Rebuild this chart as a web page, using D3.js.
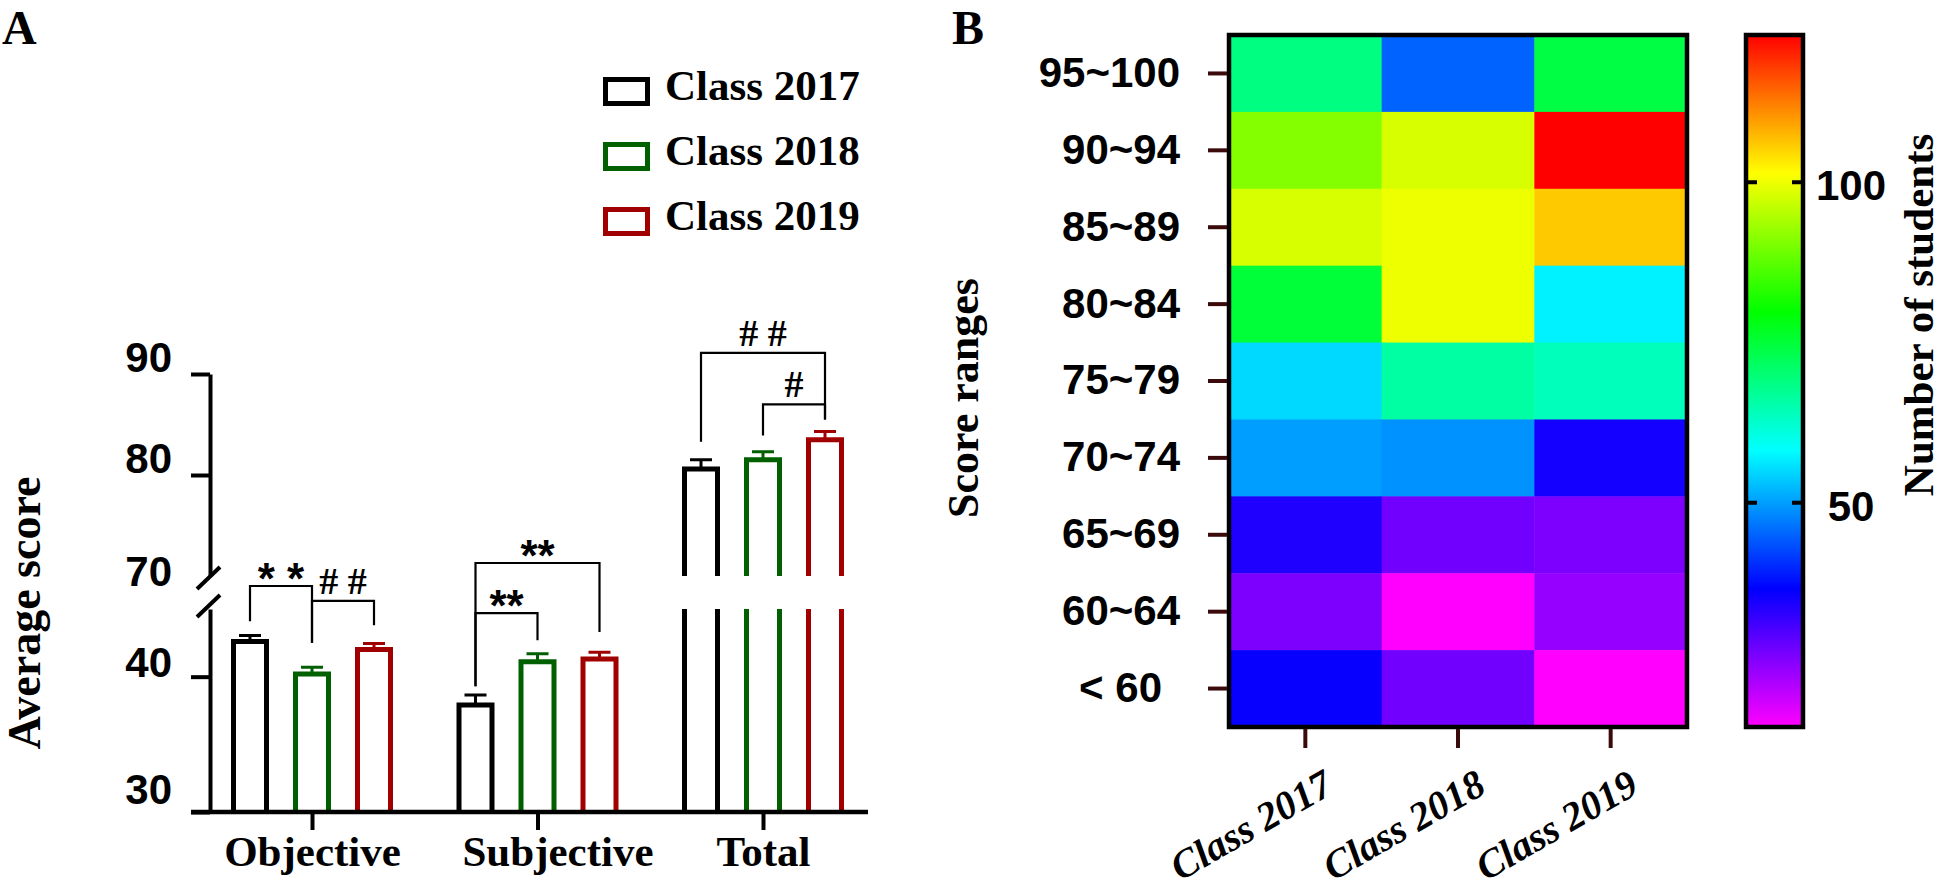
<!DOCTYPE html>
<html>
<head>
<meta charset="utf-8">
<script src="https://cdn.jsdelivr.net/npm/d3@7"></script>
<style>
  body { margin: 0; background: #fff; }
  svg { display: block; }
  .serif { font-family: 'Liberation Serif', 'Times New Roman', serif; font-weight: bold; }
  .sans { font-family: 'Liberation Sans', Arial, sans-serif; font-weight: bold; }
</style>
</head>
<body>
<svg id="chart" width="1943" height="886"></svg>
<script>
// ---- panel A data ----
const groups = ['Objective', 'Subjective', 'Total'];
const classes = ['Class 2017', 'Class 2018', 'Class 2019'];
const classColors = ['#000000', '#006000', '#a00000'];

// mean score per group (Objective, Subjective, Total)
const mean2017 = [42.6, 37.9, 80.6];
const mean2018 = [40.2, 41.1, 81.5];
const mean2019 = [42.0, 41.3, 83.5];
// standard error per group
const sem2017 = [0.45, 0.75, 0.9];
const sem2018 = [0.5, 0.6, 0.8];
const sem2019 = [0.45, 0.5, 0.8];

const lowTicks = [30, 40];
const highTicks = [70, 80, 90];

// significance brackets: bracket level and the two leg ends in score units
const marks = [
  { group: 0, from: 0, to: 1, level: 46.7, ends: [44.1, 42.5], label: '* *' },
  { group: 0, from: 1, to: 2, level: 45.6, ends: [42.5, 43.8], label: '# #' },
  { group: 1, from: 0, to: 2, level: 48.4, ends: [39.3, 43.3], label: '**' },
  { group: 1, from: 0, to: 1, level: 44.7, ends: [39.3, 42.7], label: '**' },
  { group: 2, from: 0, to: 2, level: 92.1, ends: [83.3, 85.5], label: '# #' },
  { group: 2, from: 1, to: 2, level: 87.0, ends: [83.9, 85.5], label: '#' }
];

// ---- panel B data ----
const scoreRanges = ['95~100', '90~94', '85~89', '80~84', '75~79', '70~74', '65~69', '60~64', '< 60'];
const count2017 = [69, 91, 98, 75, 55, 50, 34, 26, 36];
const count2018 = [45, 98, 100, 100, 66, 49, 27, 15, 27];
const count2019 = [74, 123, 106, 57, 64, 35, 26, 24, 15];
const colorTicks = [50, 100];
const colorDomain = [15, 36.6, 58.2, 79.8, 101.4, 123];
const colorRange = ['#ff00ff', '#0000ff', '#00ffff', '#00ff00', '#ffff00', '#ff0000'];

const svg = d3.select('#chart');

// ================= panel A =================
const means = [mean2017, mean2018, mean2019];
const sems = [sem2017, sem2018, sem2019];

const axisX = 210, plotRight = 868, baseY = 812;

const x = d3.scalePoint().domain(groups).range([312, 763]);
const xOff = d3.scalePoint().domain(classes).range([-62, 62]);
const yLow = d3.scaleLinear().domain([30, 45]).range([baseY, 609]);
const yHigh = d3.scaleLinear().domain([70, 90]).range([576, 374]);
const yScore = v => v >= 60 ? yHigh(v) : yLow(v);

svg.append('text').attr('class', 'serif')
  .attr('x', 2).attr('y', 44).attr('font-size', 48).text('A');

// legend
const legend = svg.append('g').attr('transform', 'translate(603,77)');
const legendRow = legend.selectAll('g').data(classes).enter().append('g')
  .attr('transform', (d, i) => `translate(0,${i * 65})`);
legendRow.append('rect')
  .attr('x', 2.5).attr('y', 2.5).attr('width', 42).attr('height', 24)
  .attr('fill', 'none').attr('stroke-width', 5)
  .attr('stroke', (d, i) => classColors[i]);
legendRow.append('text').attr('class', 'serif')
  .attr('x', 62).attr('y', 23).attr('font-size', 43)
  .text(d => d);

// bars
const bars = [];
groups.forEach((g, gi) => classes.forEach((c, ci) => {
  bars.push({ group: g, cls: c, ci: ci, v: means[ci][gi], sem: sems[ci][gi] });
}));

const half = 16.5;
const barPath = d => {
  const cx = x(d.group) + xOff(d.cls), l = cx - half, r = cx + half, top = yScore(d.v);
  if (d.v >= 60) {
    return `M${l},${yHigh(70)}V${top}H${r}V${yHigh(70)}` +
      `M${l},${yLow(45)}V${baseY}M${r},${yLow(45)}V${baseY}`;
  }
  return `M${l},${baseY}V${top}H${r}V${baseY}`;
};

const barG = svg.append('g');
barG.selectAll('path.bar').data(bars).enter().append('path')
  .attr('class', 'bar')
  .attr('d', barPath)
  .attr('fill', 'none')
  .attr('stroke', d => classColors[d.ci])
  .attr('stroke-width', 5);

// error bars (upper only)
barG.selectAll('path.err').data(bars).enter().append('path')
  .attr('class', 'err')
  .attr('d', d => {
    const cx = x(d.group) + xOff(d.cls);
    const yt = yScore(d.v + d.sem);
    return `M${cx},${yScore(d.v)}V${yt}M${cx - 11},${yt}H${cx + 11}`;
  })
  .attr('fill', 'none')
  .attr('stroke', d => classColors[d.ci])
  .attr('stroke-width', 3);

// y axis, broken in two segments
const styleAxis = g => {
  g.select('.domain').attr('stroke-width', 4);
  g.selectAll('.tick line').attr('stroke-width', 4);
  g.selectAll('.tick text').attr('class', 'sans').attr('font-size', 42).attr('fill', '#000');
};
const gHigh = svg.append('g').attr('transform', `translate(${axisX},0)`)
  .call(d3.axisLeft(yHigh).tickValues(highTicks).tickSize(19).tickSizeOuter(0).tickPadding(19))
  .call(styleAxis);
gHigh.selectAll('.tick').filter(d => d === 70).select('line').remove();
gHigh.selectAll('.tick text').attr('dy', d => d === 70 ? '0.22em' : '-0.05em');

const gLow = svg.append('g').attr('transform', `translate(${axisX},0)`)
  .call(d3.axisLeft(yLow).tickValues(lowTicks).tickSize(19).tickSizeOuter(0).tickPadding(19))
  .call(styleAxis);
gLow.selectAll('.tick text').attr('dy', d => d === 30 ? '-0.2em' : '0em');

// break marks
[yHigh(70) + 2, yLow(45) - 3].forEach(cy => {
  svg.append('line')
    .attr('x1', axisX - 13).attr('y1', cy + 11)
    .attr('x2', axisX + 10).attr('y2', cy - 11)
    .attr('stroke', '#000').attr('stroke-width', 4);
});

// x axis
svg.append('line')
  .attr('x1', axisX - 19).attr('x2', plotRight)
  .attr('y1', baseY).attr('y2', baseY)
  .attr('stroke', '#000').attr('stroke-width', 4.5);
const gx = svg.append('g').attr('transform', `translate(0,${baseY})`)
  .call(d3.axisBottom(x).tickSize(18).tickSizeOuter(0));
gx.select('.domain').remove();
gx.selectAll('.tick line').attr('stroke-width', 4);
gx.selectAll('.tick text').attr('class', 'serif').attr('font-size', 43).attr('fill', '#000')
  .attr('y', 54).attr('dy', 0)
  .attr('dx', d => d === 'Subjective' ? 20 : 0);

svg.append('text').attr('class', 'serif')
  .attr('transform', 'translate(40,613) rotate(-90)')
  .attr('text-anchor', 'middle').attr('font-size', 46)
  .text('Average score');

// significance brackets
const markG = svg.append('g');
marks.forEach(m => {
  const g = groups[m.group];
  const xs = x(g) + xOff(classes[m.from]);
  const xe = x(g) + xOff(classes[m.to]);
  const yl = yScore(m.level);
  markG.append('path')
    .attr('d', `M${xs},${yScore(m.ends[0])}V${yl}H${xe}V${yScore(m.ends[1])}`)
    .attr('fill', 'none').attr('stroke', '#000').attr('stroke-width', 2.2);
  const star = m.label.includes('*');
  markG.append('text')
    .attr('class', star ? 'sans' : 'serif')
    .attr('font-weight', star ? 'normal' : 'bold')
    .attr('x', (xs + xe) / 2)
    .attr('y', yl + (star ? 8 : -7))
    .attr('text-anchor', 'middle')
    .attr('font-size', star ? 44 : 38)
    .text(m.label);
});

// ================= panel B =================
const counts = [count2017, count2018, count2019];
const cells = [];
scoreRanges.forEach((r, ri) => classes.forEach((c, ci) => {
  cells.push({ range: r, cls: c, v: counts[ci][ri] });
}));

const hx = d3.scaleBand().domain(classes).range([1229, 1687]);
const hy = d3.scaleBand().domain(scoreRanges).range([35, 727]);
const color = d3.scaleLinear().domain(colorDomain).range(colorRange);

svg.append('text').attr('class', 'serif')
  .attr('x', 952).attr('y', 44).attr('font-size', 48).text('B');

svg.append('g').selectAll('rect').data(cells).enter().append('rect')
  .attr('x', d => hx(d.cls)).attr('y', d => hy(d.range))
  .attr('width', hx.bandwidth() + 0.5).attr('height', hy.bandwidth() + 0.5)
  .attr('fill', d => color(d.v));

svg.append('rect')
  .attr('x', 1229).attr('y', 35).attr('width', 1687 - 1229).attr('height', 727 - 35)
  .attr('fill', 'none').attr('stroke', '#000').attr('stroke-width', 4.5);

const tickColor = '#3b0b0b';
const gyH = svg.append('g').attr('transform', 'translate(1227,0)').attr('color', tickColor)
  .call(d3.axisLeft(hy).tickSize(19).tickPadding(28));
gyH.select('.domain').remove();
gyH.selectAll('.tick line').attr('stroke-width', 4);
gyH.selectAll('.tick text').attr('class', 'sans').attr('font-size', 42).attr('fill', '#000')
  .attr('dx', d => d.startsWith('<') ? -18 : 0);

const gxH = svg.append('g').attr('transform', 'translate(0,729)').attr('color', tickColor)
  .call(d3.axisBottom(hx).tickSize(19));
gxH.select('.domain').remove();
gxH.selectAll('.tick line').attr('stroke-width', 4);
gxH.selectAll('.tick text').remove();

svg.append('g').selectAll('text').data(classes).enter().append('text')
  .attr('class', 'serif').attr('font-style', 'italic').attr('font-size', 40)
  .attr('text-anchor', 'end')
  .attr('transform', d => `translate(${hx(d) + hx.bandwidth() / 2 + 30},792) rotate(-30)`)
  .text(d => d);

svg.append('text').attr('class', 'serif')
  .attr('transform', `translate(978,398) rotate(-90)`)
  .attr('text-anchor', 'middle').attr('font-size', 44)
  .text('Score ranges');

// colour bar
const cbX = 1746, cbW = 57;
const cy = d3.scaleLinear().domain([colorDomain[0], colorDomain[colorDomain.length - 1]]).range([727, 35]);
const grad = svg.append('defs').append('linearGradient')
  .attr('id', 'cbar').attr('x1', 0).attr('y1', 1).attr('x2', 0).attr('y2', 0);
grad.selectAll('stop').data(colorDomain).enter().append('stop')
  .attr('offset', d => (d - cy.domain()[0]) / (cy.domain()[1] - cy.domain()[0]))
  .attr('stop-color', d => color(d));

svg.append('rect')
  .attr('x', cbX).attr('y', cy.range()[1]).attr('width', cbW).attr('height', cy.range()[0] - cy.range()[1])
  .attr('fill', 'url(#cbar)').attr('stroke', '#000').attr('stroke-width', 4.5);

const cbTicks = svg.append('g').selectAll('g').data(colorTicks).enter().append('g');
cbTicks.append('path')
  .attr('d', d => `M${cbX},${cy(d)}h11M${cbX + cbW},${cy(d)}h-11`)
  .attr('stroke', '#000').attr('stroke-width', 4);
cbTicks.append('text').attr('class', 'sans')
  .attr('x', 1851).attr('y', d => cy(d)).attr('dy', '0.43em')
  .attr('text-anchor', 'middle').attr('font-size', 42)
  .text(d => d);

svg.append('text').attr('class', 'serif')
  .attr('transform', 'translate(1933,315) rotate(-90)')
  .attr('text-anchor', 'middle').attr('font-size', 43)
  .text('Number of students');
</script>
</body>
</html>
